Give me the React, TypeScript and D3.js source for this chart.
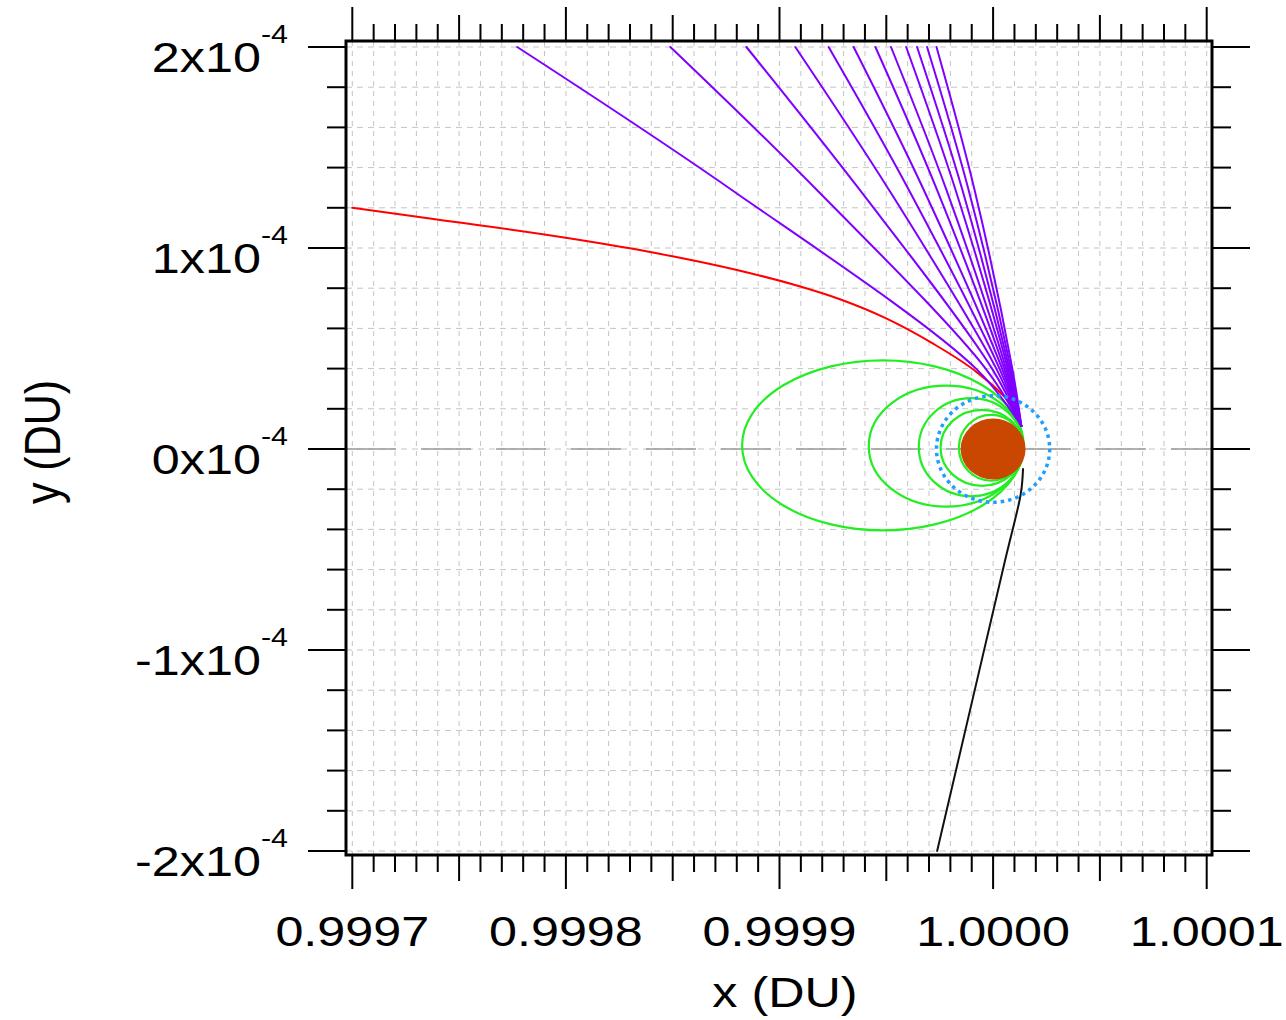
import React from 'react';
import * as d3 from 'd3';

// axis labels
const xTickLabels = ['0.9997', '0.9998', '0.9999', '1.0000', '1.0001'];
const yTickMantissa = ['-2', '-1', '0', '1', '2'];
const yTickExponent = '-4';

// approach trajectories (purple): x at y = 2e-4, 1.29e-4, 0.4e-4, then perigee
const purpleY = [2.0e-4, 1.29e-4, 0.4e-4];
const purpleStartX = [0.9997772, 0.9998489, 0.9998845, 0.9999074, 0.999923, 0.9999347, 0.9999449, 0.9999522, 0.9999593, 0.9999644, 0.9999691, 0.9999735];
const purpleMidX = [0.9998775, 0.9999174, 0.9999375, 0.9999512, 0.9999605, 0.9999675, 0.9999737, 0.9999781, 0.9999824, 0.9999856, 0.9999885, 0.9999913];
const purpleNearX = [0.999992, 0.9999965, 0.9999995, 1.0000015, 1.000003, 1.0000042, 1.0000052, 1.0000061, 1.0000069, 1.0000076, 1.0000083, 1.000009];
const perigeeX = 1.0000132;
const perigeeY = 1.15e-5;

// capture trajectory (red)
const redX = [0.9997, 0.9997355, 0.9997998, 0.9998426, 0.9998854, 0.9999069, 0.9999283, 0.9999497, 0.9999711, 0.9999926, 1.0000034, 1.0000095, 1.0000132];
const redY = [1.2e-4, 1.148e-4, 1.051e-4, 0.974e-4, 0.877e-4, 0.817e-4, 0.745e-4, 0.651e-4, 0.529e-4, 0.38e-4, 0.28e-4, 0.205e-4, 0.115e-4];

// departure (black)
const blackX = [0.9999738, 1.0000057, 1.000013, 1.000014];
const blackY = [-2.0e-4, -0.55e-4, -0.22e-4, -0.1e-4];

// elliptic orbits (green)
const greenCx = [0.9999484, 0.999978, 0.9999897, 0.9999948, 0.9999991];
const greenCy = [1.8e-6, 1.4e-6, 0.9e-6, 0.6e-6, 0.6e-6];
const greenRx = [6.59e-5, 3.62e-5, 2.45e-5, 1.94e-5, 1.51e-5];
const greenRy = [4.23e-5, 3.01e-5, 2.44e-5, 1.89e-5, 1.64e-5];

const earthX = 1.0;
const earthY = 0;
const earthR = 1.52e-5;
const parkingR = 2.65e-5;

const W = 1286;
const H = 1020;
const FRAME = { left: 346, right: 1212, top: 41, bottom: 855 };
const FONT = "'Liberation Sans', Arial, sans-serif";
const SX = 1.17;

const xScale = d3.scaleLinear().domain([0.9997, 1.0001]).range([352.3, 1206.7]);
const yScale = d3.scaleLinear().domain([-2e-4, 2e-4]).range([851, 47]);

const xTicks = d3.range(41).map((i) => ({ v: 0.9997 + i * 1e-5, kind: i % 10 === 0 ? 2 : i % 5 === 0 ? 1 : 0 }));
const yTicks = d3.range(21).map((i) => ({ v: -2e-4 + i * 2e-5, kind: i % 5 === 0 ? 2 : 0 }));

const line = d3
  .line<[number, number]>()
  .x((d) => xScale(d[0]))
  .y((d) => yScale(d[1]))
  .curve(d3.curveCatmullRom.alpha(0.5));

const smoothX = d3
  .line<[number, number]>()
  .x((d) => xScale(d[0]))
  .y((d) => yScale(d[1]))
  .curve(d3.curveMonotoneX);

export default function App() {
  const xLen = [17, 26, 34];
  const yLen = [19, 0, 38];

  const purplePaths = purpleStartX.map((sx, i) => {
    const pts: [number, number][] = [
      [sx, purpleY[0]],
      [purpleMidX[i], purpleY[1]],
      [purpleNearX[i], purpleY[2]],
      [perigeeX, perigeeY],
    ];
    return line(pts);
  });
  const redPath = smoothX(redX.map((x, i) => [x, redY[i]] as [number, number]));
  const blackPath = line(blackX.map((x, i) => [x, blackY[i]] as [number, number]));

  const ex = xScale(earthX);
  const ey = yScale(earthY);
  const kx = xScale(1.0001) - xScale(1.0);
  const ky = yScale(0) - yScale(1e-4);

  return (
    <svg width={W} height={H} style={{ position: 'absolute', left: 0, top: 0, background: '#fff' }}>
      <defs>
        <clipPath id="plot">
          <rect x={FRAME.left} y={FRAME.top} width={FRAME.right - FRAME.left} height={FRAME.bottom - FRAME.top} />
        </clipPath>
      </defs>

      {/* grid */}
      <g stroke="#c4c4c4" strokeWidth={1}>
        {xTicks.map((t, i) => (
          <line key={'gx' + i} x1={xScale(t.v)} x2={xScale(t.v)} y1={FRAME.top} y2={FRAME.bottom} strokeDasharray="5 5" />
        ))}
        {yTicks.map((t, i) => (
          <line key={'gy' + i} x1={FRAME.left} x2={FRAME.right} y1={yScale(t.v)} y2={yScale(t.v)} strokeDasharray="6 5" />
        ))}
      </g>
      <line x1={FRAME.left} x2={FRAME.right} y1={yScale(0)} y2={yScale(0)} stroke="#999" strokeWidth={1.5} strokeDasharray="50 25" />

      <g clipPath="url(#plot)" fill="none" strokeLinejoin="round" strokeLinecap="round">
        <path d={blackPath || ''} stroke="#111" strokeWidth={2} />
        {greenCx.map((cx, i) => (
          <ellipse
            key={'g' + i}
            cx={xScale(cx)}
            cy={yScale(greenCy[i])}
            rx={(greenRx[i] / 1e-4) * kx}
            ry={(greenRy[i] / 1e-4) * ky}
            stroke="#22ee22"
            strokeWidth={2.2}
          />
        ))}
        <path d={redPath || ''} stroke="#ff0000" strokeWidth={2} />
        {purplePaths.map((d, i) => (
          <path key={'p' + i} d={d || ''} stroke="#7f00ff" strokeWidth={2} />
        ))}
        <ellipse
          cx={ex}
          cy={ey}
          rx={(parkingR / 1e-4) * kx}
          ry={(parkingR / 1e-4) * ky}
          stroke="#1e9fff"
          strokeWidth={3.5}
          strokeDasharray="3.5 4"
          strokeLinecap="butt"
        />
        <ellipse cx={ex} cy={ey} rx={(earthR / 1e-4) * kx} ry={(earthR / 1e-4) * ky} fill="#c94700" stroke="none" />
      </g>

      {/* frame */}
      <rect
        x={FRAME.left}
        y={FRAME.top}
        width={FRAME.right - FRAME.left}
        height={FRAME.bottom - FRAME.top}
        fill="none"
        stroke="#000"
        strokeWidth={3}
      />

      {/* ticks */}
      <g stroke="#000" strokeWidth={2}>
        {xTicks.map((t, i) => (
          <g key={'tx' + i}>
            <line x1={xScale(t.v)} x2={xScale(t.v)} y1={FRAME.top} y2={FRAME.top - xLen[t.kind]} />
            <line x1={xScale(t.v)} x2={xScale(t.v)} y1={FRAME.bottom} y2={FRAME.bottom + xLen[t.kind]} />
          </g>
        ))}
        {yTicks.map((t, i) => (
          <g key={'ty' + i}>
            <line x1={FRAME.left} x2={FRAME.left - yLen[t.kind]} y1={yScale(t.v)} y2={yScale(t.v)} />
            <line x1={FRAME.right} x2={FRAME.right + yLen[t.kind]} y1={yScale(t.v)} y2={yScale(t.v)} />
          </g>
        ))}
      </g>

      {/* tick labels */}
      <g fontFamily={FONT} fill="#000">
        {xTickLabels.map((l) => (
          <text key={l} transform={`translate(${xScale(+l)},946) scale(${SX},1)`} textAnchor="middle" fontSize={43}>
            {l}
          </text>
        ))}
        {yTickMantissa.map((m) => (
          <text key={m} transform={`translate(288,${yScale(+m * 1e-4) + 25}) scale(${SX},1)`} textAnchor="end" fontSize={43}>
            <tspan>{m}x10</tspan>
            <tspan fontSize={26} dy={-29}>
              {yTickExponent}
            </tspan>
          </text>
        ))}
        <text transform={`translate(${(FRAME.left + FRAME.right) / 2 + 6},1007) scale(${SX},1)`} textAnchor="middle" fontSize={43}>
          x (DU)
        </text>
        <text transform={`translate(60,${(FRAME.top + FRAME.bottom) / 2 - 6}) scale(${SX},1) rotate(-90)`} textAnchor="middle" fontSize={43}>
          y (DU)
        </text>
      </g>
    </svg>
  );
}
